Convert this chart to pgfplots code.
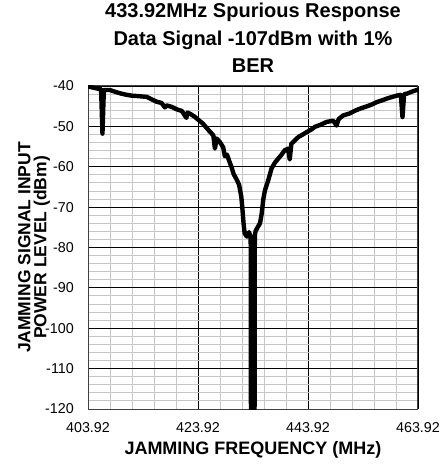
\documentclass[border=0pt]{standalone}
\usepackage{fontspec}
\setmainfont{Liberation Sans}
\usepackage{pgfplots}
\pgfplotsset{compat=1.18}
\begin{document}
\begin{tikzpicture}
\begin{axis}[
 scale only axis, width=330pt, height=323pt,
 xmin=403.92, xmax=463.92, ymin=-120, ymax=-40,
 xtick={403.92,423.92,443.92,463.92},
 xticklabels={403.92,423.92,443.92,463.92},
 ytick={-120,-110,...,-40},
 yticklabels={-120,-110,-100,-90,-80,-70,-60,-50,-40},
 minor x tick num=4, minor y tick num=4,
 grid=both,
 major grid style={black, line width=0.9pt},
 minor grid style={black!22, line width=0.9pt},
 axis line style={black!75, line width=1pt},
 major tick length=0pt, minor tick length=0pt,
 tick label style={font=\fontsize{14.3}{14.3}\selectfont, inner sep=0pt},
 xticklabel style={anchor=base, yshift=-23.7pt},
 yticklabel style={anchor=east, xshift=-14pt},
 title={433.92MHz Spurious Response\\Data Signal -107dBm with 1\%\\BER},
 title style={at={(axis description cs:0.5,1)}, anchor=south, yshift=7pt, align=center, inner sep=0pt, font=\bfseries\fontsize{20}{27.5}\selectfont},
 xlabel={JAMMING FREQUENCY (MHz)},
 xlabel style={at={(axis description cs:0.5,-0.1402)}, anchor=base, inner sep=0pt, font=\bfseries\fontsize{18}{18}\selectfont},
 ylabel={JAMMING SIGNAL INPUT\\POWER LEVEL (dBm)},
 ylabel style={at={(axis description cs:-0.1636,0.5)}, anchor=center, align=center, inner sep=0pt, font=\bfseries\fontsize{17.5}{16}\selectfont},
]
\addplot[black, line width=4.4pt, line join=round, line cap=round] coordinates {
(403.92,-40.1) (404.5,-40.3) (405.5,-40.6) (406.3,-40.8) (406.55,-51.8) (406.8,-41.0)
(407.9,-41.0) (409,-41.5) (410,-41.9) (411,-42.2) (411.9,-42.4) (413,-42.5)
(414.6,-42.7) (415.5,-43.3) (416.4,-43.9) (417.3,-44.2) (417.9,-45.3) (418.2,-44.8)
(419.2,-45.2) (420.1,-45.8) (421.0,-46.2) (421.8,-47.9) (422.0,-46.6) (422.5,-46.9)
(423.3,-47.6) (424.0,-48.4) (424.8,-49.3) (425.5,-50.4) (426.0,-51.2) (426.7,-52.2)
(427.0,-55.5) (427.3,-53.0) (427.9,-53.9) (428.5,-55.2) (428.8,-57.4) (429.2,-57.0)
(429.6,-58.6) (430.0,-60.0) (430.4,-61.8) (431.0,-63.3) (431.4,-64.5) (431.8,-67.5)
(432.0,-70.5) (432.2,-74.0) (432.4,-76.5) (432.8,-77.3) (433.2,-76.2) (433.5,-77.5)
(433.55,-121) (434.2,-121) (434.25,-77.0)
(434.4,-75.9) (434.8,-74.9) (435.2,-74.0) (435.5,-71.6) (435.8,-68.0) (436.1,-65.8)
(436.7,-63.3) (437.3,-60.4) (437.9,-59.0) (438.5,-58.0) (439.0,-57.2) (439.7,-55.9)
(440.3,-55.5) (440.6,-58.2) (440.9,-54.3) (441.5,-53.5) (442.2,-52.6) (443.0,-52.0)
(443.7,-51.4) (444.5,-50.8) (445.2,-50.1) (446.2,-49.6) (447.3,-48.9) (448.5,-48.6)
(449.1,-49.8) (449.5,-48.2) (450.3,-47.3) (451.5,-46.8) (452.5,-46.1) (453.4,-45.6)
(454.5,-45.1) (455.5,-44.6) (456.4,-44.0) (457.5,-43.5) (458.5,-43.0) (460.0,-42.4)
(460.8,-42.2) (461.1,-47.7) (461.4,-42.0) (461.9,-41.9) (463.0,-41.3) (463.92,-40.9)
};
\end{axis}
\pgfresetboundingbox
\path (current axis.south west) ++(-88pt,-56pt) rectangle ++(444pt,465pt);
\end{tikzpicture}
\end{document}
